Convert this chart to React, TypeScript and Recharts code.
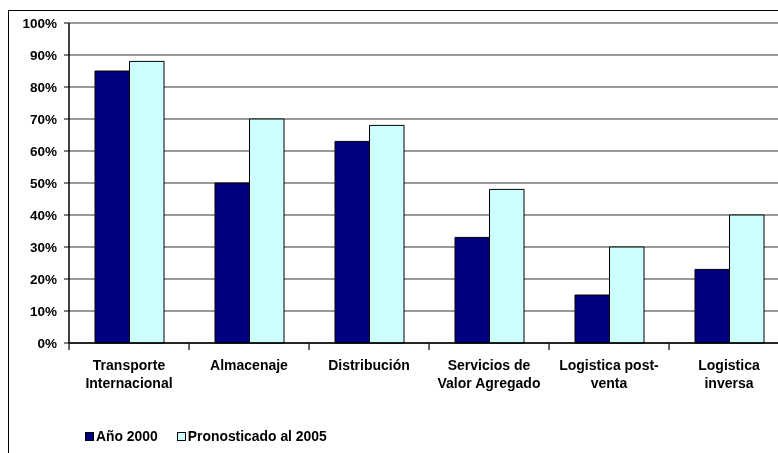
import React from "react";
import {
  BarChart,
  Bar,
  XAxis,
  YAxis,
  CartesianGrid,
} from "recharts";

// categories ("\n" marks where the label wraps)
const categories = [
  "Transporte\nInternacional",
  "Almacenaje",
  "Distribución",
  "Servicios de\nValor Agregado",
  "Logistica post-\nventa",
  "Logistica\ninversa",
];
const anio2000 = [85, 50, 63, 33, 15, 23];
const pronostico2005 = [88, 70, 68, 48, 30, 40];
const seriesNames = ["Año 2000", "Pronosticado al 2005"];
const seriesColors = ["#000080", "#CCFFFF"];
const yTicks = [0, 10, 20, 30, 40, 50, 60, 70, 80, 90, 100];

const data = categories.map((c, i) => ({
  name: c,
  a: anio2000[i],
  b: pronostico2005[i],
}));

const FONT = "'Liberation Sans', Arial, sans-serif";

// label lines plus tick marks at the band edges
const CategoryTick = (props: any) => {
  const { x, y, payload, index } = props;
  const half = payload.offset ?? 60;
  const lines = String(payload.value).split("\n");
  const isLast = index === categories.length - 1;
  return (
    <g>
      <line x1={x - half} y1={y - 8} x2={x - half} y2={y - 1} stroke="#000" strokeWidth={1.2} />
      {isLast && (
        <line x1={x + half} y1={y - 8} x2={x + half} y2={y - 1} stroke="#000" strokeWidth={1.2} />
      )}
      <text
        x={x}
        y={y}
        textAnchor="middle"
        fontFamily={FONT}
        fontSize={14}
        fontWeight="bold"
        fill="#000"
      >
        {lines.map((l, i) => (
          <tspan key={i} x={x} dy={i === 0 ? 19 : 18}>
            {l}
          </tspan>
        ))}
      </text>
    </g>
  );
};

const App: React.FC = () => {
  return (
    <div
      style={{
        position: "fixed",
        left: 8,
        top: 8,
        width: 770,
        height: 445,
        overflow: "hidden",
      }}
    >
      <div
        style={{
          marginTop: 2,
          borderTop: "1px solid #000",
          borderLeft: "1px solid #000",
          width: 800,
          height: 450,
          position: "relative",
        }}
      >
        <BarChart
          width={800}
          height={430}
          data={data}
          margin={{ top: 12, right: 20, left: 0, bottom: 0 }}
          barGap={0}
          barSize={34.5}
        >
          <CartesianGrid
            vertical={false}
            stroke="#777"
            strokeWidth={1.5}
          />
          <XAxis
            dataKey="name"
            height={98}
            interval={0}
            tickLine={false}
            axisLine={{ stroke: "#000", strokeWidth: 1.5 }}
            tick={<CategoryTick />}
          />
          <YAxis
            width={60}
            domain={[0, 100]}
            ticks={yTicks}
            tickFormatter={(v) => `${v}%`}
            tickSize={5}
            tickMargin={7}
            tickLine={{ stroke: "#000" }}
            axisLine={{ stroke: "#000", strokeWidth: 1.5 }}
            tick={{
              fill: "#000",
              fontFamily: FONT,
              fontSize: 13.5,
              fontWeight: "bold",
            }}
          />
          <Bar
            dataKey="a"
            name={seriesNames[0]}
            fill={seriesColors[0]}
            stroke="#000"
            strokeWidth={1}
            isAnimationActive={false}
          />
          <Bar
            dataKey="b"
            name={seriesNames[1]}
            fill={seriesColors[1]}
            stroke="#000"
            strokeWidth={1}
            isAnimationActive={false}
          />
        </BarChart>
        <div
          style={{
            position: "absolute",
            left: 76,
            top: 417,
            display: "flex",
            alignItems: "center",
            fontFamily: FONT,
            fontSize: 13.9,
            fontWeight: "bold",
            color: "#000",
          }}
        >
          {seriesNames.map((n, i) => (
            <div
              key={n}
              style={{ display: "flex", alignItems: "center", marginRight: 19 }}
            >
              <span
                style={{
                  display: "inline-block",
                  width: 7,
                  height: 7,
                  background: seriesColors[i],
                  border: "1px solid #000",
                  marginRight: 2,
                }}
              />
              <span>{n}</span>
            </div>
          ))}
        </div>
      </div>
    </div>
  );
};

export default App;
